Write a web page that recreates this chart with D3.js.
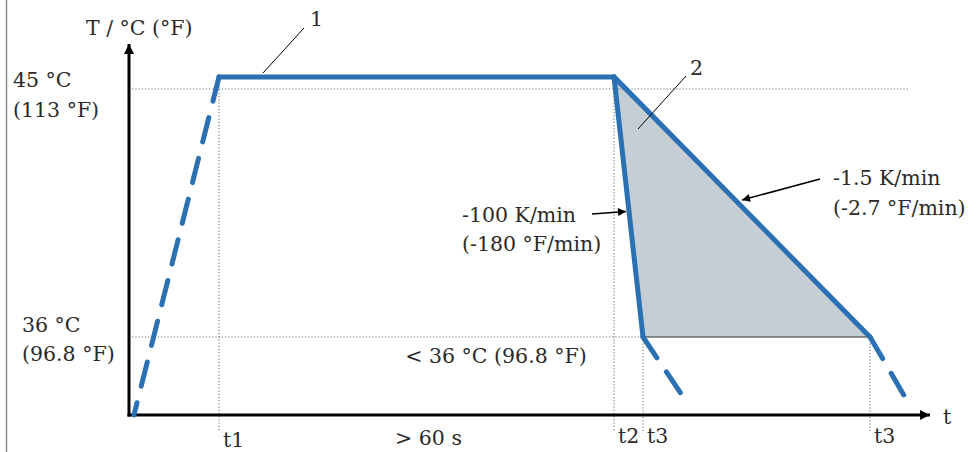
<!DOCTYPE html>
<html><head><meta charset="utf-8">
<script src="https://cdn.jsdelivr.net/npm/d3@7"></script>
<style>
html,body{margin:0;padding:0;background:#fff;}
text{font-family:"DejaVu Serif",serif;font-size:20.5px;fill:#2a2a2a;}
</style></head>
<body><svg id="c" width="979" height="452"></svg>
<script>
// ---- data (schematic time units 0..100, temperature in °C) ----
const tickTimes  = [11.24, 60.55, 64.17, 92.51];
const tickLabels = ["t1", "t2", "t3", "t3"];
const tempLevels = [45, 36];
const tempLabelsC = ["45 °C", "36 °C"];
const tempLabelsF = ["(113 °F)", "(96.8 °F)"];
const plateauTemp = 45.44;
const heatupDash  = [[0.62, 33.17], [11.24, 45.44]];
const plateau     = [[11.24, 45.44], [60.55, 45.44]];
const fastCool    = [[60.55, 45.44], [64.17, 36]];
const slowCool    = [[60.55, 45.44], [92.51, 36]];
const afterFast   = [[64.17, 36], [69.2, 33.82]];
const afterSlow   = [[92.51, 36], [96.88, 33.82]];
const rateFast = ["-100 K/min", "(-180 °F/min)"];
const rateSlow = ["-1.5 K/min", "(-2.7 °F/min)"];
const durationLabel = "> 60 s";
const belowLabel = "< 36 °C (96.8 °F)";

const svg = d3.select("#c");
const x = d3.scaleLinear().domain([0, 100]).range([129, 930]);
const y = d3.scaleLinear().domain([33.17, 45]).range([415, 89]);
const line = d3.line().x(d => x(d[0])).y(d => y(d[1]));
const blue = "#2a70b2";

// left border
svg.append("line").attr("x1",6.5).attr("x2",6.5).attr("y1",0).attr("y2",452)
  .attr("stroke","#8a8a8a").attr("stroke-width",1.5);

// markers
const defs = svg.append("defs");
defs.append("marker").attr("id","ah").attr("viewBox","0 0 10 10").attr("refX",10).attr("refY",5)
  .attr("markerWidth",14).attr("markerHeight",10).attr("markerUnits","userSpaceOnUse").attr("orient","auto")
  .append("path").attr("d","M0,0 L10,5 L0,10 z").attr("fill","#000");
defs.append("marker").attr("id","ahs").attr("viewBox","0 0 10 10").attr("refX",10).attr("refY",5)
  .attr("markerWidth",12).attr("markerHeight",8).attr("markerUnits","userSpaceOnUse").attr("orient","auto")
  .append("path").attr("d","M0,0 L10,5 L0,10 z").attr("fill","#000");

// fill region between cooling curves
svg.append("path")
  .attr("d", line([fastCool[0], fastCool[1], slowCool[1]]) + "Z")
  .attr("fill","#c5ced5");

// dotted reference lines
const dot = {stroke:"#666", "stroke-width":1, "stroke-dasharray":"1.2,2"};
function applyAttrs(sel, o){ for (const k in o) sel.attr(k, o[k]); return sel; }
applyAttrs(svg.append("line").attr("x1",x(0)).attr("x2",x(97.25)).attr("y1",y(45)).attr("y2",y(45)), dot);
applyAttrs(svg.append("line").attr("x1",x(0)).attr("x2",x(64.17)).attr("y1",y(36)).attr("y2",y(36)), dot);
svg.append("line").attr("x1",x(64.17)).attr("x2",x(92.51)).attr("y1",y(36)).attr("y2",y(36))
  .attr("stroke","#333").attr("stroke-width",1.2);
const tickTop = [plateauTemp, plateauTemp, 36, 36];
tickTimes.forEach((t,i) => {
  applyAttrs(svg.append("line").attr("x1",x(t)).attr("x2",x(t)).attr("y1",y(tickTop[i])).attr("y2",432), dot);
});

// axes
svg.append("line").attr("x1",x(0)).attr("x2",x(0)).attr("y1",y(33.17)+1.5).attr("y2",y(46.63))
  .attr("stroke","#000").attr("stroke-width",3).attr("marker-end","url(#ah)");
svg.append("line").attr("x1",x(0)-1.5).attr("x2",x(100)).attr("y1",y(33.17)).attr("y2",y(33.17))
  .attr("stroke","#000").attr("stroke-width",3).attr("marker-end","url(#ah)");

// profile
const solidStyle = s => s.attr("fill","none").attr("stroke",blue).attr("stroke-width",5)
  .attr("stroke-linejoin","round").attr("stroke-linecap","round");
solidStyle(svg.append("path").attr("d", line([heatupDash[1], heatupDash[0]]))).attr("stroke-dasharray","25,17");
solidStyle(svg.append("path").attr("d", line(plateau)));
solidStyle(svg.append("path").attr("d", line(fastCool)));
solidStyle(svg.append("path").attr("d", line(slowCool)));
solidStyle(svg.append("path").attr("d", line(afterFast))).attr("stroke-dasharray","25,17");
solidStyle(svg.append("path").attr("d", line(afterSlow))).attr("stroke-dasharray","25,17");

// leader lines
svg.append("line").attr("x1",263).attr("y1",73).attr("x2",304).attr("y2",28).attr("stroke","#000").attr("stroke-width",1);
svg.append("text").attr("x",310).attr("y",26).text("1");
svg.append("line").attr("x1",638).attr("y1",129).attr("x2",686).attr("y2",76).attr("stroke","#000").attr("stroke-width",1);
svg.append("text").attr("x",690).attr("y",75).text("2");

// rate arrows
svg.append("line").attr("x1",592).attr("y1",214).attr("x2",626).attr("y2",211.5)
  .attr("stroke","#000").attr("stroke-width",1.5).attr("marker-end","url(#ahs)");
svg.append("line").attr("x1",820).attr("y1",179).attr("x2",742).attr("y2",200)
  .attr("stroke","#000").attr("stroke-width",1.5).attr("marker-end","url(#ahs)");

// texts
svg.append("text").attr("x",86).attr("y",35).text("T / °C (°F)");
const yLabX = [13, 22], yOffC = [-2, -5], yOffF = [28, 24];
tempLevels.forEach((v,i) => {
  svg.append("text").attr("x",yLabX[i]).attr("y",y(v)+yOffC[i]).text(tempLabelsC[i]);
  svg.append("text").attr("x",yLabX[i]).attr("y",y(v)+yOffF[i]).text(tempLabelsF[i]);
});
const tickBase = [447, 443, 443, 443];
tickTimes.forEach((t,i) => {
  svg.append("text").attr("x",x(t)+4).attr("y",tickBase[i]).text(tickLabels[i]);
});
svg.append("text").attr("x",x(100)+13).attr("y",424).text("t");
svg.append("text").attr("x",(x(tickTimes[0])+x(tickTimes[1]))/2 + 12).attr("y",445).attr("text-anchor","middle").text(durationLabel);
svg.append("text").attr("x",496).attr("y",363).attr("text-anchor","middle").text(belowLabel);
svg.append("text").attr("x",462).attr("y",222).text(rateFast[0]);
svg.append("text").attr("x",462).attr("y",251).text(rateFast[1]);
svg.append("text").attr("x",833).attr("y",185).text(rateSlow[0]);
svg.append("text").attr("x",833).attr("y",215).text(rateSlow[1]);
</script></body></html>
